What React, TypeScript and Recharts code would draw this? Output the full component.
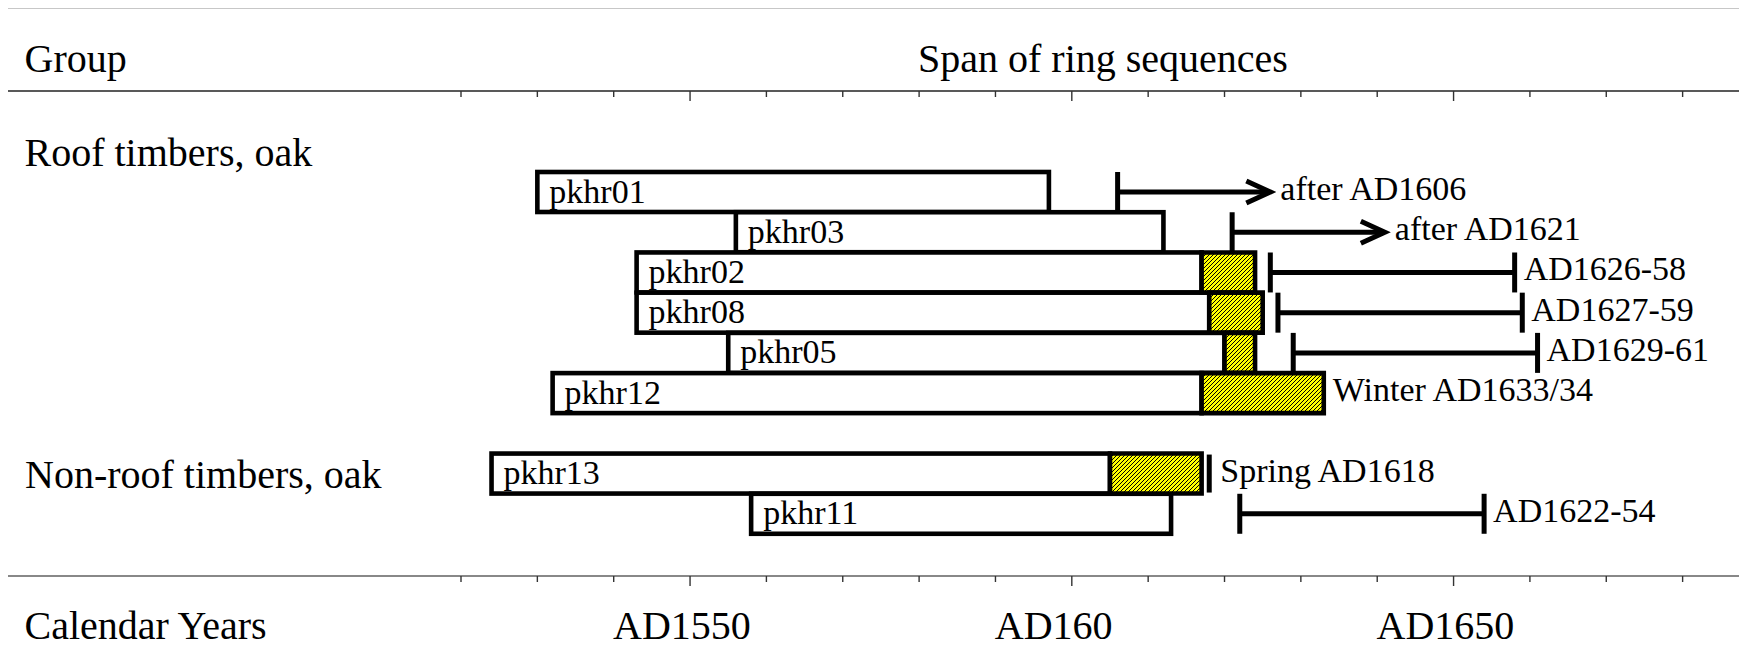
import React from 'react';
import { BarChart, Bar, XAxis, YAxis } from 'recharts';

// one row per timber, '' = empty spacer row between the two groups
const samples = ['pkhr01', 'pkhr03', 'pkhr02', 'pkhr08', 'pkhr05', 'pkhr12', '', 'pkhr13', 'pkhr11'];
const firstRing = [1530, 1556, 1543, 1543, 1555, 1532, null, 1524, 1558];
const sapwoodStart = [1597, 1612, 1617, 1618, 1620, 1617, null, 1605, 1613];
const lastRing = [1597, 1612, 1624, 1625, 1624, 1633, null, 1617, 1613];
const fellingFrom = [1606, 1621, 1626, 1627, 1629, 1633, null, 1618, 1622];
const fellingTo = [1626, 1641, 1658, 1659, 1661, 1633, null, 1618, 1654];
const fellingKind = ['after', 'after', 'range', 'range', 'range', 'exact', '', 'season', 'range'];
const fellingLabels = ['after AD1606', 'after AD1621', 'AD1626-58', 'AD1627-59', 'AD1629-61', 'Winter AD1633/34', '', 'Spring AD1618', 'AD1622-54'];

const groups = ['Roof timbers, oak', 'Non-roof timbers, oak'];
const yearTicks = [1520, 1530, 1540, 1550, 1560, 1570, 1580, 1590, 1600, 1610, 1620, 1630, 1640, 1650, 1660, 1670, 1680];
const labelledYears = [1550, 1600, 1650];
const yearLabels = ['AD1550', 'AD160', 'AD1650'];

const FONT = "'Liberation Serif', 'Times New Roman', serif";
const W = 1739;
const H = 652;
const BORDER = 4.6;

const rows = samples.map((name, i) => {
    if (firstRing[i] == null) {
        return { row: 'spacer', name: '', kind: '', label: '', offset: null, heartwood: null, sapwood: null, gap: null, felling: null };
    }
    return {
        row: name,
        name,
        kind: fellingKind[i],
        label: fellingLabels[i],
        offset: firstRing[i],
        heartwood: (sapwoodStart[i] as number) - (firstRing[i] as number),
        sapwood: (lastRing[i] as number) - (sapwoodStart[i] as number),
        gap: (fellingFrom[i] as number) - (lastRing[i] as number),
        felling: (fellingTo[i] as number) - (fellingFrom[i] as number),
    };
});

const HeartwoodShape = (props: any) => {
    const { x, y, width, height, payload } = props;
    if (!payload || !payload.name) return null;
    return (
        <g>
            <rect x={x} y={y} width={width} height={height} fill="#fff" stroke="#000" strokeWidth={BORDER} />
            <text x={x + 12} y={y + height / 2 + 10.5} fontFamily={FONT} fontSize={34} fill="#000">
                {payload.name}
            </text>
        </g>
    );
};

const FellingShape = (props: any) => {
    const { x, y, width, height, payload } = props;
    if (!payload || !payload.kind) return null;
    const cy = y + height / 2;
    const end = x + width;
    const sw = 5;
    let textX = end + 9;

    const marks: React.ReactNode[] = [];
    if (payload.kind === 'after') {
        marks.push(<line key="t" x1={x} x2={x} y1={y} y2={y + height} stroke="#000" strokeWidth={sw} />);
        marks.push(<line key="l" x1={x} x2={end - 2} y1={cy} y2={cy} stroke="#000" strokeWidth={sw} />);
        marks.push(
            <polyline key="a" points={`${end - 24},${cy - 11} ${end},${cy} ${end - 24},${cy + 11}`}
                fill="none" stroke="#000" strokeWidth={sw} strokeLinejoin="miter" />
        );
        textX = end + 10;
    } else if (payload.kind === 'range') {
        marks.push(<line key="t1" x1={x} x2={x} y1={y} y2={y + height} stroke="#000" strokeWidth={sw} />);
        marks.push(<line key="t2" x1={end} x2={end} y1={y} y2={y + height} stroke="#000" strokeWidth={sw} />);
        marks.push(<line key="l" x1={x} x2={end} y1={cy} y2={cy} stroke="#000" strokeWidth={sw} />);
    } else if (payload.kind === 'season') {
        marks.push(<line key="t" x1={x} x2={x} y1={y + 1} y2={y + height - 1} stroke="#000" strokeWidth={sw} />);
        textX = end + 11;
    }

    return (
        <g>
            {marks}
            <text x={textX} y={cy + 8} fontFamily={FONT} fontSize={34} fill="#000">
                {payload.label}
            </text>
        </g>
    );
};

const BottomTick = (props: any) => {
    const { x, y, payload } = props;
    const k = labelledYears.indexOf(payload.value);
    return (
        <g>
            <line x1={x} x2={x} y1={y} y2={y + (k >= 0 ? 10 : 6)} stroke="#333" strokeWidth={1.4} />
            {k >= 0 && (
                <text x={x - 77} y={y + 63} fontFamily={FONT} fontSize={40} fill="#000">
                    {yearLabels[k]}
                </text>
            )}
        </g>
    );
};

const TopTick = (props: any) => {
    const { x, y, payload } = props;
    const major = labelledYears.indexOf(payload.value) >= 0;
    return <line x1={x} x2={x} y1={y} y2={y + (major ? 10 : 6)} stroke="#333" strokeWidth={1.4} />;
};

export default function App() {
    const textStyle = { fontFamily: FONT, fontSize: 40, fill: '#000' };
    return (
        <div style={{ position: 'relative', width: W, height: H, marginBottom: -8 }}>
            <svg width={W} height={H}
                style={{ position: 'absolute', left: 0, top: 0, overflow: 'visible', pointerEvents: 'none' }}>
                <defs>
                    {/* pixel hatch: 1px "/" stripes every 4px on yellow */}
                    <pattern id="hatch" patternUnits="userSpaceOnUse" width="4" height="4">
                        <rect width="4" height="4" fill="#ffff00" />
                        <path d="M3 0h1v1h-1z M2 1h1v1h-1z M1 2h1v1h-1z M0 3h1v1h-1z"
                            fill="#000" shapeRendering="crispEdges" />
                    </pattern>
                </defs>
                <line x1={0} x2={W} y1={-0.5} y2={-0.5} stroke="#222" strokeWidth={1.5} />
                <line x1={0} x2={W} y1={83} y2={83} stroke="#222" strokeWidth={1.5} />
                <line x1={0} x2={W} y1={568} y2={568} stroke="#888" strokeWidth={2} />
                <line x1={0} x2={W} y1={651} y2={651} stroke="#888" strokeWidth={2} />
                <text x={16.5} y={63.7} style={textStyle}>Group</text>
                <text x={910} y={63.7} style={textStyle}>Span of ring sequences</text>
                <text x={16.5} y={157.7} style={textStyle}>{groups[0]}</text>
                <text x={17} y={480.3} style={textStyle}>{groups[1]}</text>
                <text x={16.5} y={631.3} style={textStyle}>Calendar Years</text>
            </svg>

            <BarChart
                width={W}
                height={H}
                data={rows}
                layout="vertical"
                barCategoryGap={0}
                margin={{ top: 0, right: 3.3, bottom: 0, left: 453 }}
            >
                <XAxis
                    xAxisId="top"
                    orientation="top"
                    type="number"
                    domain={[1520, 1688]}
                    allowDataOverflow
                    ticks={yearTicks}
                    interval={0}
                    height={83}
                    axisLine={false}
                    tickLine={false}
                    tickSize={0}
                    tickMargin={0}
                    tick={<TopTick />}
                />
                <XAxis
                    xAxisId="bottom"
                    orientation="bottom"
                    type="number"
                    domain={[1520, 1688]}
                    allowDataOverflow
                    ticks={yearTicks}
                    interval={0}
                    height={84}
                    axisLine={false}
                    tickLine={false}
                    tickSize={0}
                    tickMargin={0}
                    tick={<BottomTick />}
                />
                <YAxis type="category" dataKey="row" hide padding={{ top: 81, bottom: 42 }} />
                <Bar xAxisId="bottom" dataKey="offset" stackId="t" fill="none" isAnimationActive={false} />
                <Bar xAxisId="bottom" dataKey="heartwood" stackId="t" shape={<HeartwoodShape />} isAnimationActive={false} />
                <Bar xAxisId="bottom" dataKey="sapwood" stackId="t" fill="url(#hatch)" stroke="#000" strokeWidth={BORDER} isAnimationActive={false} />
                <Bar xAxisId="bottom" dataKey="gap" stackId="t" fill="none" isAnimationActive={false} />
                <Bar xAxisId="bottom" dataKey="felling" stackId="t" shape={<FellingShape />} isAnimationActive={false} />
            </BarChart>
        </div>
    );
}
